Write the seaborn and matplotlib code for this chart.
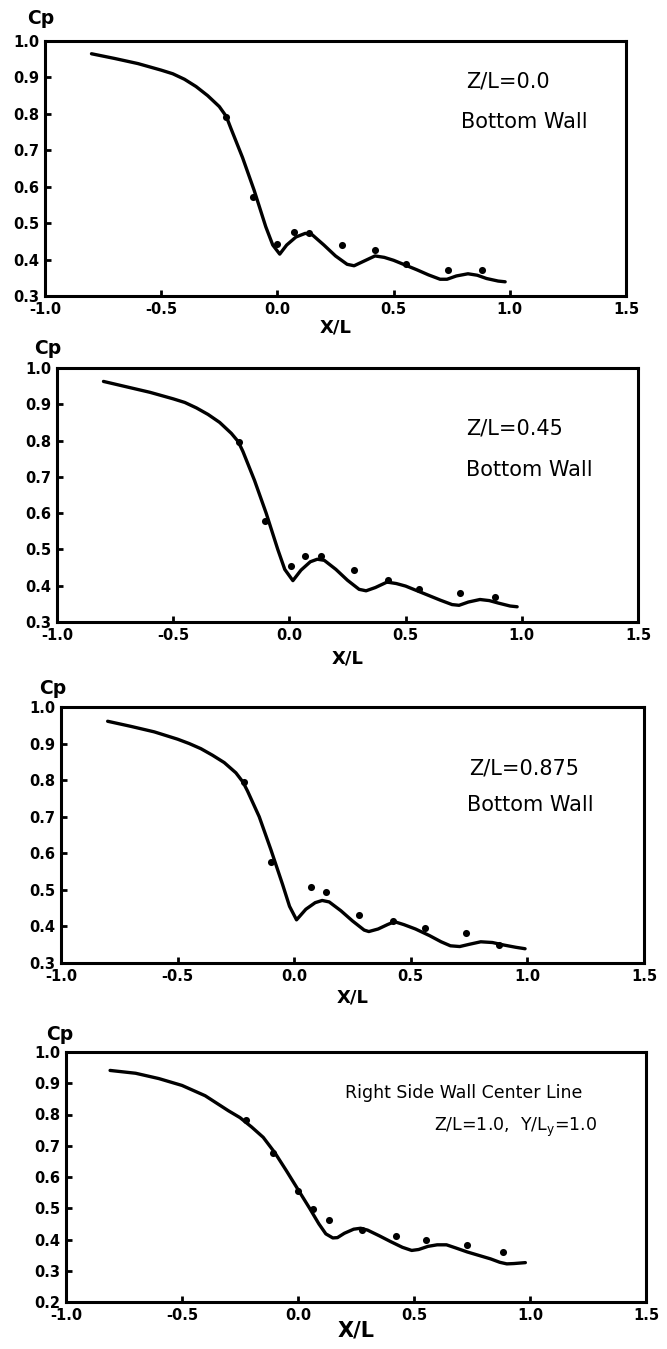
import matplotlib
matplotlib.use("Agg")
import matplotlib.pyplot as plt
import seaborn as sns
import pandas as pd

# ---------------- data ----------------
# Panel 1: Z/L = 0.0, bottom wall
x_curve1 = [-0.8, -0.7, -0.6, -0.5, -0.45, -0.4, -0.35, -0.3, -0.25, -0.22, -0.2, -0.15, -0.1,
            -0.05, -0.02, 0.01, 0.04, 0.08, 0.12, 0.15, 0.2, 0.25, 0.3, 0.33, 0.37, 0.42,
            0.46, 0.5, 0.55, 0.6, 0.65, 0.7, 0.73, 0.77, 0.82, 0.86, 0.9, 0.95, 0.98]
cp_curve1 = [0.965, 0.952, 0.938, 0.92, 0.91, 0.895, 0.875, 0.85, 0.82, 0.793, 0.76, 0.68, 0.59,
             0.49, 0.44, 0.415, 0.44, 0.462, 0.472, 0.468, 0.44, 0.41, 0.387, 0.383, 0.395, 0.41,
             0.406, 0.398, 0.385, 0.372, 0.358, 0.346, 0.346, 0.355, 0.361, 0.357, 0.348, 0.341, 0.339]
x_pts1 = [-0.22, -0.104, 0.0, 0.07, 0.134, 0.277, 0.421, 0.555, 0.732, 0.882]
cp_pts1 = [0.79, 0.572, 0.443, 0.475, 0.473, 0.44, 0.426, 0.387, 0.371, 0.371]

# Panel 2: Z/L = 0.45, bottom wall
x_curve2 = [-0.8, -0.7, -0.6, -0.5, -0.45, -0.4, -0.35, -0.3, -0.25, -0.22, -0.2, -0.15, -0.1,
            -0.05, -0.02, 0.015, 0.05, 0.09, 0.12, 0.15, 0.2, 0.25, 0.3, 0.33, 0.37, 0.42,
            0.46, 0.5, 0.55, 0.6, 0.65, 0.7, 0.73, 0.77, 0.82, 0.86, 0.9, 0.95, 0.98]
cp_curve2 = [0.963, 0.948, 0.933, 0.915, 0.905, 0.89, 0.872, 0.85, 0.82, 0.797, 0.77, 0.69, 0.6,
             0.5, 0.445, 0.414, 0.443, 0.466, 0.473, 0.47, 0.445, 0.415, 0.39, 0.386, 0.395, 0.41,
             0.406, 0.399, 0.386, 0.373, 0.36, 0.348, 0.346, 0.355, 0.362, 0.359, 0.352, 0.344, 0.342]
x_pts2 = [-0.219, -0.104, 0.006, 0.068, 0.138, 0.278, 0.425, 0.558, 0.732, 0.884]
cp_pts2 = [0.795, 0.578, 0.455, 0.483, 0.483, 0.443, 0.417, 0.39, 0.381, 0.368]

# Panel 3: Z/L = 0.875, bottom wall
x_curve3 = [-0.8, -0.7, -0.6, -0.5, -0.45, -0.4, -0.35, -0.3, -0.25, -0.22, -0.2, -0.15, -0.1,
            -0.05, -0.02, 0.01, 0.05, 0.09, 0.12, 0.15, 0.2, 0.25, 0.3, 0.32, 0.36, 0.4,
            0.43, 0.47, 0.52, 0.58, 0.63, 0.67, 0.71, 0.75, 0.8, 0.85, 0.9, 0.95, 0.99]
cp_curve3 = [0.961, 0.947, 0.932, 0.912, 0.9, 0.886, 0.868, 0.848, 0.82, 0.795, 0.77, 0.7, 0.61,
             0.515, 0.455, 0.418, 0.447, 0.465, 0.471, 0.467, 0.443, 0.415, 0.39, 0.386, 0.393, 0.405,
             0.413, 0.405, 0.393, 0.375, 0.358, 0.347, 0.345, 0.351, 0.358, 0.356, 0.349, 0.343, 0.339]
x_pts3 = [-0.217, -0.101, 0.073, 0.137, 0.28, 0.425, 0.559, 0.735, 0.88]
cp_pts3 = [0.795, 0.575, 0.507, 0.495, 0.432, 0.414, 0.395, 0.383, 0.348]

# Panel 4: right side wall center line
x_curve4 = [-0.81, -0.7, -0.6, -0.5, -0.4, -0.3, -0.25, -0.2, -0.15, -0.1, -0.05, 0.0, 0.05,
            0.09, 0.12, 0.15, 0.17, 0.2, 0.24, 0.27, 0.3, 0.35, 0.4, 0.45, 0.49, 0.52, 0.56,
            0.6, 0.64, 0.68, 0.73, 0.78, 0.83, 0.87, 0.9, 0.93, 0.98]
cp_curve4 = [0.941, 0.932, 0.915, 0.893, 0.86, 0.812, 0.79, 0.76, 0.727, 0.678, 0.62, 0.56, 0.5,
             0.45, 0.418, 0.405, 0.406, 0.42, 0.433, 0.436, 0.43, 0.412, 0.393, 0.375, 0.365, 0.368, 0.378,
             0.383, 0.383, 0.373, 0.36, 0.349, 0.338, 0.327, 0.322, 0.323, 0.326]
x_pts4 = [-0.223, -0.109, 0.0, 0.064, 0.132, 0.275, 0.421, 0.553, 0.728, 0.882]
cp_pts4 = [0.782, 0.676, 0.554, 0.498, 0.462, 0.431, 0.41, 0.397, 0.383, 0.36]

x_ticks = [-1.0, -0.5, 0.0, 0.5, 1.0, 1.5]
x_ticklabels = ["-1.0", "-0.5", "0.0", "0.5", "1.0", "1.5"]
y_ticks_a = [0.3, 0.4, 0.5, 0.6, 0.7, 0.8, 0.9, 1.0]
y_ticks_b = [0.2, 0.3, 0.4, 0.5, 0.6, 0.7, 0.8, 0.9, 1.0]

labels_top = ["Z/L=0.0", "Z/L=0.45", "Z/L=0.875"]
label_bottom_wall = "Bottom Wall"
label_side_1 = "Right Side Wall Center Line"
label_side_2 = r"Z/L=1.0,  Y/L$_\mathregular{y}$=1.0"

# ---------------- style ----------------
sns.set_style("white")
plt.rcParams["font.family"] = ["DejaVu Sans"]
plt.rcParams["mathtext.default"] = "regular"
plt.rcParams["text.color"] = "black"
plt.rcParams["xtick.color"] = "black"
plt.rcParams["ytick.color"] = "black"
plt.rcParams["xtick.labelcolor"] = "black"
plt.rcParams["ytick.labelcolor"] = "black"

W, H = 667, 1349
fig = plt.figure(figsize=(W / 100, H / 100), dpi=100)

# axes rectangles in pixel coords: left, right, top, bottom
rects = [(45, 626, 41, 296), (57, 638, 368, 622), (61, 644, 707, 963), (66, 646, 1052, 1302)]
cp_offsets = [(-4, 23), (-9, 20), (-8, 18), (-6, 17)]
xl_offsets = [32, 36, 34, 28]

panels = [
    (x_curve1, cp_curve1, x_pts1, cp_pts1),
    (x_curve2, cp_curve2, x_pts2, cp_pts2),
    (x_curve3, cp_curve3, x_pts3, cp_pts3),
    (x_curve4, cp_curve4, x_pts4, cp_pts4),
]

axes = []
for i, ((l, r, t, b), (xc, yc, xp, yp)) in enumerate(zip(rects, panels)):
    ax = fig.add_axes([l / W, 1 - b / H, (r - l) / W, (b - t) / H])
    axes.append(ax)
    dfc = pd.DataFrame({"x": xc, "cp": yc})
    dfp = pd.DataFrame({"x": xp, "cp": yp})
    sns.lineplot(data=dfc, x="x", y="cp", sort=False, estimator=None, color="black",
                 linewidth=2.4, ax=ax, solid_capstyle="round", solid_joinstyle="round")
    sns.scatterplot(data=dfp, x="x", y="cp", color="black", s=26, edgecolor="black",
                    linewidth=0, ax=ax, zorder=3)
    ax.set_xlim(-1.0, 1.5)
    yt = y_ticks_b if i == 3 else y_ticks_a
    ax.set_ylim(yt[0], yt[-1])
    ax.set_xticks(x_ticks)
    ax.set_xticklabels(x_ticklabels)
    ax.set_yticks(yt)
    ax.set_yticklabels([f"{v:.1f}" for v in yt])
    for lab in ax.get_xticklabels() + ax.get_yticklabels():
        lab.set_fontweight("bold")
        lab.set_fontsize(10.5)
        lab.set_color("black")
    ax.tick_params(axis="both", direction="in", length=4, width=2, color="black",
                   bottom=True, left=True, top=False, right=False, pad=4)
    for s in ax.spines.values():
        s.set_visible(True)
        s.set_linewidth(2.2)
        s.set_color("black")
    ax.set_xlabel("")
    ax.set_ylabel("")
    # Cp label
    dx, dy = cp_offsets[i]
    ax.text(dx / (r - l), 1 + dy / (b - t), "Cp", transform=ax.transAxes, ha="center",
            va="center", fontsize=13.5, fontweight="bold", color="black")
    # X/L label
    ax.text(0.5, -xl_offsets[i] / (b - t), "X/L", transform=ax.transAxes, ha="center",
            va="center", fontsize=15 if i == 3 else 13, fontweight="bold", color="black")

# annotations
kw = dict(va="center", ha="left", color="black")
axes[0].text(0.814, 0.889, labels_top[0], fontsize=15, **kw)
axes[0].text(0.792, 0.779, label_bottom_wall, fontsize=15, **kw)
axes[1].text(0.759, 0.834, labels_top[1], fontsize=15, **kw)
axes[1].text(0.759, 0.72, label_bottom_wall, fontsize=15, **kw)
axes[2].text(0.752, 0.832, labels_top[2], fontsize=15, **kw)
axes[2].text(0.739, 0.732, label_bottom_wall, fontsize=15, **kw)
axes[3].text(0.2015, 0.869, label_side_1, fontsize=12.5, **kw)
axes[3].text(0.586, 0.758, label_side_2, fontsize=12.5, **kw)

fig.savefig("out.png", dpi=100)
